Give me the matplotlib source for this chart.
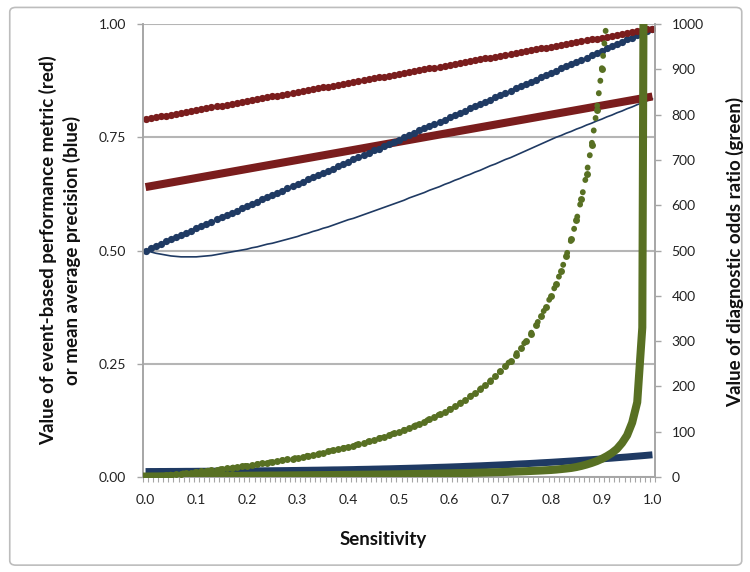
import matplotlib
matplotlib.use("Agg")
import matplotlib.pyplot as plt
from matplotlib.patches import FancyBboxPatch
import numpy as np

plt.rcParams['font.family'] = ['Lato', 'DejaVu Sans']

# x categories: sensitivity 0.00 .. 1.00 in steps of 0.01 (101 categories)
x_labels = ["0.0", "0.1", "0.2", "0.3", "0.4", "0.5", "0.6", "0.7", "0.8", "0.9", "1.0"]

# left axis (red = event-based metric, blue = mean average precision)
red_dotted = [0.790, 0.792, 0.794, 0.796, 0.798, 0.800, 0.802, 0.804, 0.806, 0.808,
              0.810, 0.812, 0.814, 0.816, 0.818, 0.820, 0.822, 0.824, 0.826, 0.828,
              0.830, 0.832, 0.834, 0.836, 0.838, 0.840, 0.842, 0.844, 0.846, 0.848,
              0.850, 0.852, 0.854, 0.856, 0.858, 0.860, 0.862, 0.864, 0.866, 0.868,
              0.870, 0.872, 0.874, 0.876, 0.878, 0.880, 0.882, 0.884, 0.886, 0.888,
              0.890, 0.892, 0.894, 0.896, 0.898, 0.900, 0.902, 0.904, 0.906, 0.908,
              0.910, 0.912, 0.914, 0.916, 0.918, 0.920, 0.922, 0.924, 0.926, 0.928,
              0.930, 0.932, 0.934, 0.936, 0.938, 0.940, 0.942, 0.944, 0.946, 0.948,
              0.950, 0.952, 0.954, 0.956, 0.958, 0.960, 0.962, 0.964, 0.966, 0.968,
              0.970, 0.972, 0.974, 0.976, 0.978, 0.980, 0.982, 0.984, 0.986, 0.988,
              0.990]
red_solid = [0.640, 0.642, 0.644, 0.646, 0.648, 0.650, 0.652, 0.654, 0.656, 0.658,
             0.660, 0.662, 0.664, 0.666, 0.668, 0.670, 0.672, 0.674, 0.676, 0.678,
             0.680, 0.682, 0.684, 0.686, 0.688, 0.690, 0.692, 0.694, 0.696, 0.698,
             0.700, 0.702, 0.704, 0.706, 0.708, 0.710, 0.712, 0.714, 0.716, 0.718,
             0.720, 0.722, 0.724, 0.726, 0.728, 0.730, 0.732, 0.734, 0.736, 0.738,
             0.740, 0.742, 0.744, 0.746, 0.748, 0.750, 0.752, 0.754, 0.756, 0.758,
             0.760, 0.762, 0.764, 0.766, 0.768, 0.770, 0.772, 0.774, 0.776, 0.778,
             0.780, 0.782, 0.784, 0.786, 0.788, 0.790, 0.792, 0.794, 0.796, 0.798,
             0.800, 0.802, 0.804, 0.806, 0.808, 0.810, 0.812, 0.814, 0.816, 0.818,
             0.820, 0.822, 0.824, 0.826, 0.828, 0.830, 0.832, 0.834, 0.836, 0.838,
             0.840]
blue_dotted = [0.500, 0.505, 0.510, 0.515, 0.520, 0.525, 0.529, 0.534, 0.539, 0.544,
               0.549, 0.554, 0.559, 0.564, 0.569, 0.574, 0.578, 0.583, 0.588, 0.593,
               0.598, 0.603, 0.608, 0.613, 0.618, 0.623, 0.627, 0.632, 0.637, 0.642,
               0.647, 0.652, 0.657, 0.662, 0.667, 0.672, 0.676, 0.681, 0.686, 0.691,
               0.696, 0.701, 0.706, 0.711, 0.716, 0.721, 0.725, 0.730, 0.735, 0.740,
               0.745, 0.750, 0.755, 0.760, 0.765, 0.770, 0.774, 0.779, 0.784, 0.789,
               0.794, 0.799, 0.804, 0.809, 0.814, 0.819, 0.823, 0.828, 0.833, 0.838,
               0.843, 0.848, 0.853, 0.858, 0.863, 0.868, 0.872, 0.877, 0.882, 0.887,
               0.892, 0.897, 0.902, 0.907, 0.912, 0.917, 0.921, 0.926, 0.931, 0.936,
               0.941, 0.946, 0.951, 0.956, 0.961, 0.966, 0.970, 0.975, 0.980, 0.985,
               0.990]
blue_thin = [0.500, 0.497, 0.494, 0.492, 0.490, 0.488, 0.487, 0.486, 0.486, 0.486,
             0.486, 0.487, 0.488, 0.489, 0.491, 0.493, 0.495, 0.497, 0.499, 0.501,
             0.503, 0.506, 0.508, 0.511, 0.514, 0.516, 0.519, 0.522, 0.525, 0.528,
             0.531, 0.535, 0.538, 0.542, 0.545, 0.549, 0.552, 0.556, 0.560, 0.564,
             0.568, 0.571, 0.575, 0.579, 0.583, 0.587, 0.591, 0.595, 0.599, 0.603,
             0.607, 0.611, 0.616, 0.620, 0.624, 0.628, 0.633, 0.637, 0.641, 0.646,
             0.650, 0.655, 0.659, 0.664, 0.668, 0.673, 0.677, 0.682, 0.687, 0.691,
             0.696, 0.701, 0.705, 0.710, 0.715, 0.720, 0.725, 0.730, 0.735, 0.740,
             0.745, 0.750, 0.754, 0.759, 0.763, 0.768, 0.772, 0.777, 0.781, 0.786,
             0.790, 0.795, 0.799, 0.804, 0.808, 0.813, 0.817, 0.822, 0.826, 0.831,
             0.835]
blue_thick = [0.0120, 0.0121, 0.0121, 0.0122, 0.0122, 0.0123, 0.0123, 0.0124, 0.0125, 0.0125,
              0.0126, 0.0127, 0.0127, 0.0128, 0.0129, 0.0129, 0.0130, 0.0131, 0.0132, 0.0133,
              0.0134, 0.0135, 0.0136, 0.0137, 0.0138, 0.0139, 0.0140, 0.0141, 0.0142, 0.0144,
              0.0145, 0.0147, 0.0148, 0.0150, 0.0151, 0.0153, 0.0155, 0.0157, 0.0158, 0.0160,
              0.0162, 0.0164, 0.0167, 0.0169, 0.0171, 0.0174, 0.0176, 0.0179, 0.0181, 0.0184,
              0.0187, 0.0190, 0.0193, 0.0196, 0.0199, 0.0203, 0.0206, 0.0210, 0.0214, 0.0217,
              0.0221, 0.0225, 0.0229, 0.0234, 0.0238, 0.0243, 0.0247, 0.0252, 0.0257, 0.0262,
              0.0267, 0.0272, 0.0277, 0.0283, 0.0289, 0.0294, 0.0300, 0.0306, 0.0313, 0.0319,
              0.0325, 0.0332, 0.0339, 0.0346, 0.0353, 0.0360, 0.0368, 0.0376, 0.0383, 0.0391,
              0.0399, 0.0408, 0.0416, 0.0425, 0.0434, 0.0442, 0.0452, 0.0461, 0.0470, 0.0480,
              0.0490]

# right axis (green = diagnostic odds ratio)
green_dotted = [0.0, 1.01, 2.04, 3.09, 4.17, 5.26, 6.38, 7.53, 8.70, 9.89,
                11.1, 12.4, 13.6, 14.9, 16.3, 17.6, 19.0, 20.5, 22.0, 23.5,
                25.0, 26.6, 28.2, 29.9, 31.6, 33.3, 35.1, 37.0, 38.9, 40.8,
                42.9, 44.9, 47.1, 49.3, 51.5, 53.8, 56.3, 58.7, 61.3, 63.9,
                66.7, 69.5, 72.4, 75.4, 78.6, 81.8, 85.2, 88.7, 92.3, 96.1,
                100.0, 104.1, 108.3, 112.8, 117.4, 122.2, 127.3, 132.6, 138.1, 143.9,
                150.0, 156.4, 163.2, 170.3, 177.8, 185.7, 194.1, 203.0, 212.5, 222.6,
                233.3, 244.8, 257.1, 270.4, 284.6, 300.0, 316.7, 334.8, 354.5, 376.2,
                400.0, 426.3, 455.6, 488.2, 525.0, 566.7, 614.3, 669.2, 733.3, 809.1,
                900.0, 1011.0, 1150.0, 1329.0, 1567.0, 1900.0, 2400.0, 3233.0, 4900.0, 9900.0,
                np.nan]
green_thick = [1.0, 1.1, 1.2, 1.3, 1.4, 1.5, 1.6, 1.7, 1.8, 1.9,
               2.0, 2.1, 2.2, 2.2, 2.3, 2.4, 2.5, 2.6, 2.6, 2.7,
               2.8, 2.9, 3.0, 3.1, 3.2, 3.3, 3.3, 3.4, 3.5, 3.6,
               3.7, 3.8, 3.9, 4.0, 4.1, 4.2, 4.3, 4.4, 4.6, 4.7,
               4.8, 4.9, 5.0, 5.1, 5.2, 5.4, 5.5, 5.6, 5.7, 5.9,
               6.0, 6.2, 6.4, 6.6, 6.8, 7.0, 7.2, 7.4, 7.6, 7.8,
               8.0, 8.3, 8.5, 8.8, 9.0, 9.3, 9.6, 9.9, 10.2, 10.5,
               10.8, 11.2, 11.6, 12.0, 12.4, 12.8, 13.3, 13.8, 14.3, 14.9,
               15.5, 16.4, 17.5, 18.7, 20.0, 22.0, 24.5, 27.5, 31.0, 35.0,
               40.0, 46.0, 53.0, 62.0, 75.0, 92.0, 120.0, 165.0, 330.0, 3300.0,
               np.nan]

RED = '#7a1d1d'
BLUE = '#1f3a63'
GREEN = '#587023'
GRID = '#b5b5b5'
AXIS = '#a6a6a6'

x = np.arange(len(red_dotted))

fig = plt.figure(figsize=(7.5, 5.72), dpi=100)
ax = fig.add_axes([0.1907, 0.1661, 0.6826, 0.7919])
ax2 = ax.twinx()

ax.plot(x, blue_thick, color=BLUE, lw=5, solid_capstyle='butt', zorder=3)
ax.plot(x, blue_thin, color=BLUE, lw=1.2, zorder=3)
ax.plot(x, red_solid, color=RED, lw=5.8, solid_capstyle='butt', zorder=3)
ax.plot(x, blue_dotted, 'o', color=BLUE, ms=5.2, mew=0, zorder=4)
ax.plot(x, red_dotted, 'o', color=RED, ms=5.2, mew=0, zorder=4)

ax2.plot(x, green_dotted, color=GREEN, lw=4.2, ls=(0, (0.05, 2.1)),
         dash_capstyle='round', zorder=3)
ax2.plot(x, green_dotted, 'o', color=GREEN, ms=5.0, mew=0, zorder=3)
ax2.plot(x, green_thick, color=GREEN, lw=5.8, solid_joinstyle='round', zorder=4)

ax.set_xlim(-0.5, 100.5)
ax.set_ylim(0, 1)
ax2.set_ylim(0, 1000)

ax.set_yticks([0, 0.25, 0.5, 0.75, 1.0])
ax.set_yticklabels(["0.00", "0.25", "0.50", "0.75", "1.00"])
ax2.set_yticks(np.arange(0, 1001, 100))
ax.set_xticks(np.arange(0, 101, 10))
ax.set_xticklabels(x_labels)
ax.set_xticks(np.arange(-0.5, 101, 1), minor=True)

ax.grid(axis='y', color=GRID, lw=1.5)
ax.set_axisbelow(True)
for a in (ax, ax2):
    a.spines['top'].set_visible(False)
    for s in ('left', 'right', 'bottom'):
        a.spines[s].set_color(AXIS)
        a.spines[s].set_linewidth(1.2)

ax.tick_params(axis='x', which='major', length=0, pad=12, labelsize=10, labelcolor='#222222')
ax.tick_params(axis='x', which='minor', length=3.5, width=0.8, color=AXIS)
ax.tick_params(axis='y', length=4, width=1, color=AXIS, labelsize=10, labelcolor='#222222', pad=8)
ax2.tick_params(axis='y', length=4, width=1, color=AXIS, labelsize=10, labelcolor='#222222', pad=8)

fig.text(0.064, 0.563, "Value of event-based performance metric (red)", rotation=90,
         ha='center', va='center', fontsize=13.5, fontweight='bold', color='#111111')
fig.text(0.096, 0.563, "or mean average precision (blue)", rotation=90,
         ha='center', va='center', fontsize=13.5, fontweight='bold', color='#111111')
fig.text(0.98, 0.56, "Value of diagnostic odds ratio (green)", rotation=90,
         ha='center', va='center', fontsize=13.5, fontweight='bold', color='#111111')
fig.text(0.511, 0.056, "Sensitivity", ha='center', va='center',
         fontsize=13.5, fontweight='bold', color='#111111')

border = FancyBboxPatch((0.013, 0.012), 0.976, 0.975, boxstyle="round,pad=0,rounding_size=0.008",
                        transform=fig.transFigure, fill=False, ec='#bdbdbd', lw=1.2)
fig.patches.append(border)

fig.savefig("out.png", dpi=100)
